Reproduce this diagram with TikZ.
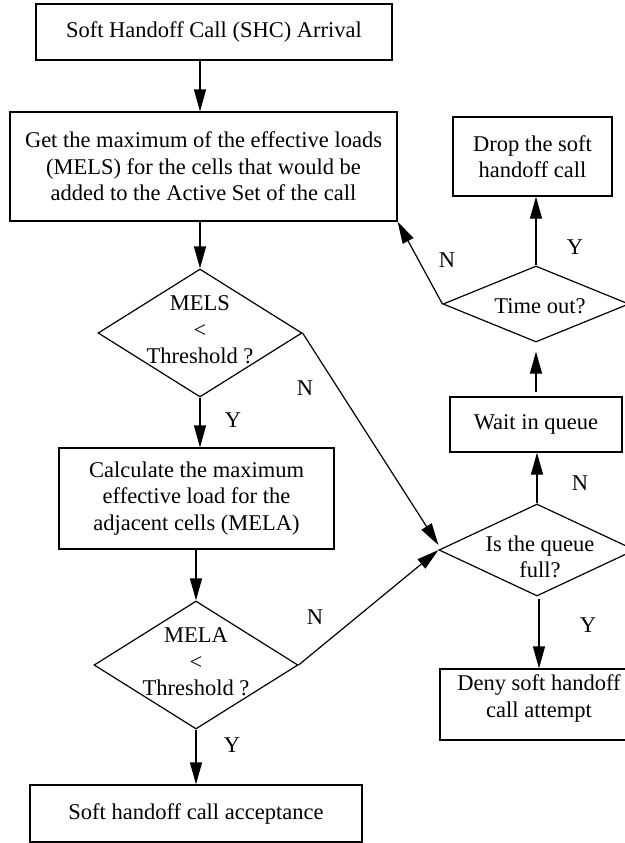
\documentclass[tikz,border=0pt]{standalone}
\usepackage{fontspec}
\setmainfont{Liberation Serif}
\usetikzlibrary{shapes.geometric,arrows.meta}
\begin{document}
\begin{tikzpicture}[x=0.5pt,y=-0.5pt,
  every node/.style={font=\fontsize{11.25}{13.25}\selectfont},
  box/.style={draw,line width=0.6pt,inner sep=0pt,align=center},
  dia/.style={draw,line width=0.6pt,diamond,inner sep=0pt},
  txt/.style={inner sep=0pt,align=center},
  arr/.style={line width=0.6pt,-{Triangle[length=11pt,width=6pt]}},
  conn/.style={line width=0.6pt},
  lbl/.style={inner sep=0pt}]
\clip (0,0) rectangle (625,843);
% boxes
\node[box,minimum width=178pt,minimum height=28pt] (b1) at (214,32) {Soft Handoff Call (SHC) Arrival};
\node[box,minimum width=193.5pt,minimum height=54.5pt] (b2) at (203.5,166.5) {Get the maximum of the effective loads\\(MELS) for the cells that would be\\added to the Active Set of the call};
\node[box,minimum width=137.5pt,minimum height=50.5pt] (b3) at (196.5,498.5) {Calculate the maximum\\effective load for the\\adjacent cells (MELA)};
\node[box,minimum width=166pt,minimum height=28.5pt] (acc) at (196,813.5) {Soft handoff call acceptance};
\node[box,minimum width=79.5pt,minimum height=39.5pt] (drop) at (532.5,156.5) {Drop the soft\\handoff call};
\node[box,minimum width=86pt,minimum height=27.5pt] (w) at (536,424.5) {Wait in queue};
\node[box,minimum width=99pt,minimum height=35.5pt] (deny) at (539,704.5) {};
\node[txt] (denyt) at (539,698.5) {Deny soft handoff\\call attempt};
% diamonds
\node[dia,minimum width=102pt,minimum height=64pt] (d1) at (200,333) {};
\node[txt] (d1t) at (200,330) {MELS\\<\\Threshold ?};
\node[dia,minimum width=102pt,minimum height=64pt] (d2) at (196,665) {};
\node[txt] (d2t) at (196,662) {MELA\\<\\Threshold ?};
\node[dia,minimum width=98pt,minimum height=46pt] (q) at (537,550) {};
\node[txt] (qt) at (540,557) {Is the queue\\full?};
\node[dia,minimum width=93pt,minimum height=38pt] (t) at (536,304) {};
\node[txt] (tt) at (540,306) {Time out?};
% connectors
\draw[arr] (b1.south -| d1) -- (b2.north -| d1);
\draw[arr] (b2.south -| d1) -- (d1.north);
\draw[arr] (d1.south) -- (b3.north -| d1);
\draw[arr] (b3.south -| d2) -- (d2.north);
\draw[arr] (d2.south) -- (acc.north -| d2);
\draw[arr] (d1.east) -- ([yshift=2.5pt]q.west);
\draw[arr] (d2.east) -- (q.west);
\draw[arr] (q.north) -- (w.south -| q);
\draw[arr] ([yshift=-1pt]q.south -| denyt) -- (deny.north -| denyt);
\draw[arr,shorten <=2pt,shorten >=4.5pt] (w.north -| t) -- (t.south);
\draw[arr] (t.north) -- (drop.south -| t);
\draw[arr] (t.west) -- (b2.south east);
% labels
\node[lbl] (l1) at (305,388) {N};
\node[lbl] (l2) at (233,420) {Y};
\node[lbl] (l3) at (315,617) {N};
\node[lbl] (l4) at (232,745) {Y};
\node[lbl] (l5) at (447,260) {N};
\node[lbl] (l6) at (575,247) {Y};
\node[lbl] (l7) at (580,483) {N};
\node[lbl] (l8) at (588,625) {Y};
\end{tikzpicture}
\end{document}
